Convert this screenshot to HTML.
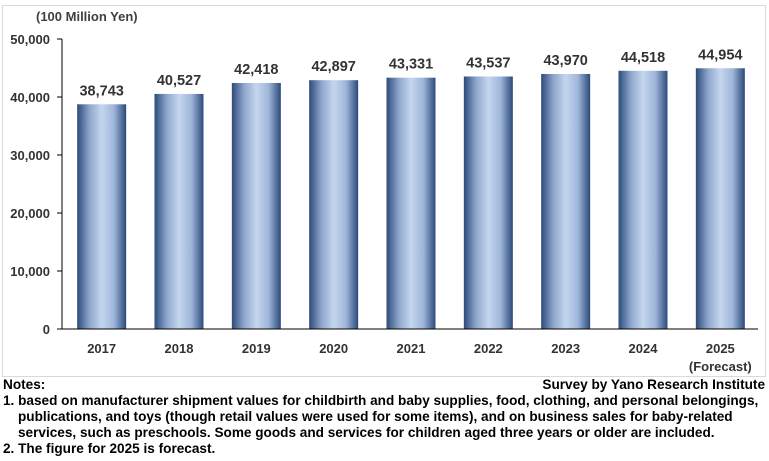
<!DOCTYPE html>
<html><head><meta charset="utf-8"><style>
body{margin:0;background:#fff;font-family:"Liberation Sans",sans-serif;}
#wrap{position:relative;width:769px;height:461px;overflow:hidden;}
.notes{position:absolute;left:3px;top:377px;font-size:13.6px;font-weight:bold;color:#000;line-height:16px;white-space:nowrap;}
</style></head><body>
<div id="wrap">
<svg id="chart" width="769" height="378" style="position:absolute;left:0;top:0">
<defs>
<linearGradient id="g" x1="0" x2="1" y1="0" y2="0">
<stop offset="0" stop-color="#2c4a7a"/><stop offset="0.25" stop-color="#8ea6cc"/><stop offset="0.5" stop-color="#c5d6ee"/><stop offset="0.75" stop-color="#9fb6da"/><stop offset="1" stop-color="#2c4a7a"/>
</linearGradient>
</defs>
<rect x="2.5" y="5.5" width="763" height="371" fill="none" stroke="#d9d9d9"/>
<text x="36" y="21" font-size="13" font-weight="bold" fill="#404040">(100 Million Yen)</text>
</svg>
<div class="notes">
<div>Notes:</div>
<div>1. based on manufacturer shipment values for childbirth and baby supplies, food, clothing, and personal belongings,</div>
<div style="padding-left:15px">publications, and toys (though retail values were used for some items), and on business sales for baby-related</div>
<div style="padding-left:15px">services, such as preschools. Some goods and services for children aged three years or older are included.</div>
<div>2. The figure for 2025 is forecast.</div>
</div>
<div style="position:absolute;right:4px;top:377px;font-size:13.6px;font-weight:bold;line-height:16px">Survey by Yano Research Institute</div>
</div>
<script>
const categories=["2017","2018","2019","2020","2021","2022","2023","2024","2025"];
const values=[38743,40527,42418,42897,43331,43537,43970,44518,44954];
const labels=["38,743","40,527","42,418","42,897","43,331","43,537","43,970","44,518","44,954"];
const ticks=[0,10000,20000,30000,40000,50000];
const tickLabels=["0","10,000","20,000","30,000","40,000","50,000"];
const svg=document.getElementById('chart');const NS='http://www.w3.org/2000/svg';
const x0=62,x1=758,y0=329,y1=39,vmax=50000;
const y=v=>y0-(v/vmax)*(y0-y1);
const step=(x1-x0)/categories.length;
const xc=i=>x0+step*(i+0.5)+1;
function mk(t,a){const e=document.createElementNS(NS,t);for(const k in a)e.setAttribute(k,a[k]);svg.appendChild(e);return e;}
ticks.forEach((t,i)=>{
const l=mk('line',{x1:x0-5,x2:x0,y1:y(t),y2:y(t),stroke:'#000'});


const tx=mk('text',{x:x0-12,y:y(t)+5,'text-anchor':'end','font-size':13,'font-weight':'bold',fill:'#333'});tx.textContent=tickLabels[i];


});
categories.forEach((c,i)=>{
const bw=49;
const r=mk('rect',{x:xc(i)-bw/2,y:y(values[i]),width:bw,height:y0-y(values[i]),fill:'url(#g)'});


const v=mk('text',{x:xc(i),y:y(values[i])-9,'text-anchor':'middle','font-size':14.5,'font-weight':'bold',fill:'#333'});v.textContent=labels[i];


const t=mk('text',{x:xc(i),y:353,'text-anchor':'middle','font-size':13,'font-weight':'bold',fill:'#333'});t.textContent=c;


});
const f=mk('text',{x:xc(8),y:371,'text-anchor':'middle','font-size':13,'font-weight':'bold',fill:'#333'});f.textContent='(Forecast)';


const ya=mk('line',{x1:x0,x2:x0,y1:y1,y2:y0,stroke:'#000'});


const xa=mk('line',{x1:x0,x2:x1,y1:y0,y2:y0,stroke:'#000'});


</script>
</body></html>
